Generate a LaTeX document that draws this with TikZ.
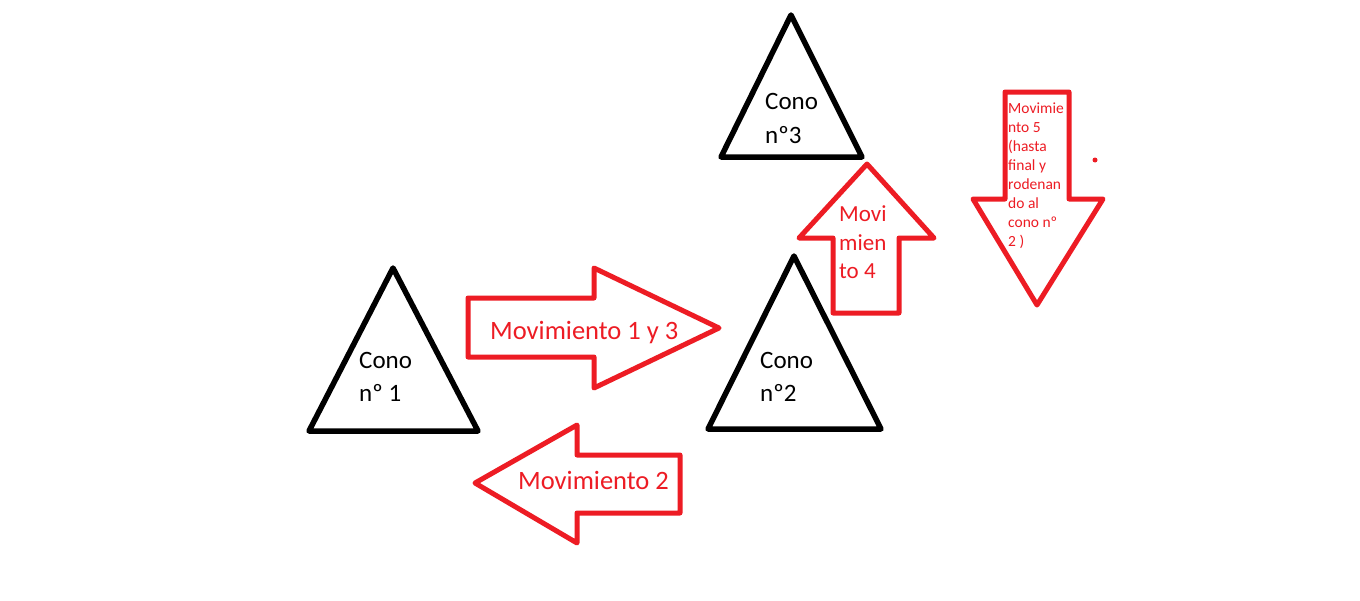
\documentclass[tikz,border=0pt]{standalone}
\usepackage{fontspec}
\setmainfont{Carlito}
\definecolor{pred}{HTML}{ED1C24}
\begin{document}
\begin{tikzpicture}[x=1pt,y=-1pt,
  cone/.style={draw=black,line width=5.5pt,line join=round},
  arr/.style={draw=pred,line width=5pt,line join=round},
  lbl/.style={inner sep=0pt,anchor=base west,align=left},
  conetxt/.style={lbl,text=black,font=\fontsize{25}{33.4}\selectfont},
  bigtxt/.style={lbl,text=pred,font=\fontsize{26.5}{32}\selectfont},
  midtxt/.style={lbl,text=pred,font=\fontsize{23}{28.3}\selectfont},
  smalltxt/.style={lbl,text=pred,font=\fontsize{15.5}{19}\selectfont}]
\useasboundingbox[fill=white] (0,0) rectangle (1360,600);
% cones
\draw[cone] (393,268) -- (478,431) -- (309,431) -- cycle;
\draw[cone] (794,256) -- (881,429) -- (708,429) -- cycle;
\draw[cone] (791,15) -- (862,157) -- (721,157) -- cycle;
\node[conetxt] (c1) at (359,401.7) {Cono\\nº 1};
\node[conetxt] (c2) at (760,401.7) {Cono\\nº2};
\node[conetxt] (c3) at (765,143) {Cono\\nº3};
% arrow right
\draw[arr] (468,298) -- (594,298) -- (594,268) -- (719,328) -- (594,388) -- (594,357) -- (468,357) -- cycle;
\node[bigtxt] (m13) at (490,339) {Movimiento 1 y 3};
% arrow left
\draw[arr] (680,455) -- (577,455) -- (577,425) -- (475,483) -- (577,543) -- (577,513) -- (680,513) -- cycle;
\node[bigtxt] (m2) at (518,489) {Movimiento 2};
% arrow up
\draw[arr] (833,313) -- (833,238) -- (799,238) -- (867,164) -- (934,238) -- (899,238) -- (899,313) -- cycle;
\node[midtxt] (m4) at (839,278.3) {Movi\\mien\\to 4};
% arrow down
\draw[arr] (1005,92) -- (1069,92) -- (1069,199) -- (1103,199) -- (1037,305) -- (973,199) -- (1005,199) -- cycle;
\node[smalltxt] (m5) at (1008,246.7) {Movimie\\nto 5\\(hasta\\final y\\rodenan\\do al\\cono nº\\2 )};
% dot
\fill[pred] (1095,160) circle (2.5);
\end{tikzpicture}
\end{document}
